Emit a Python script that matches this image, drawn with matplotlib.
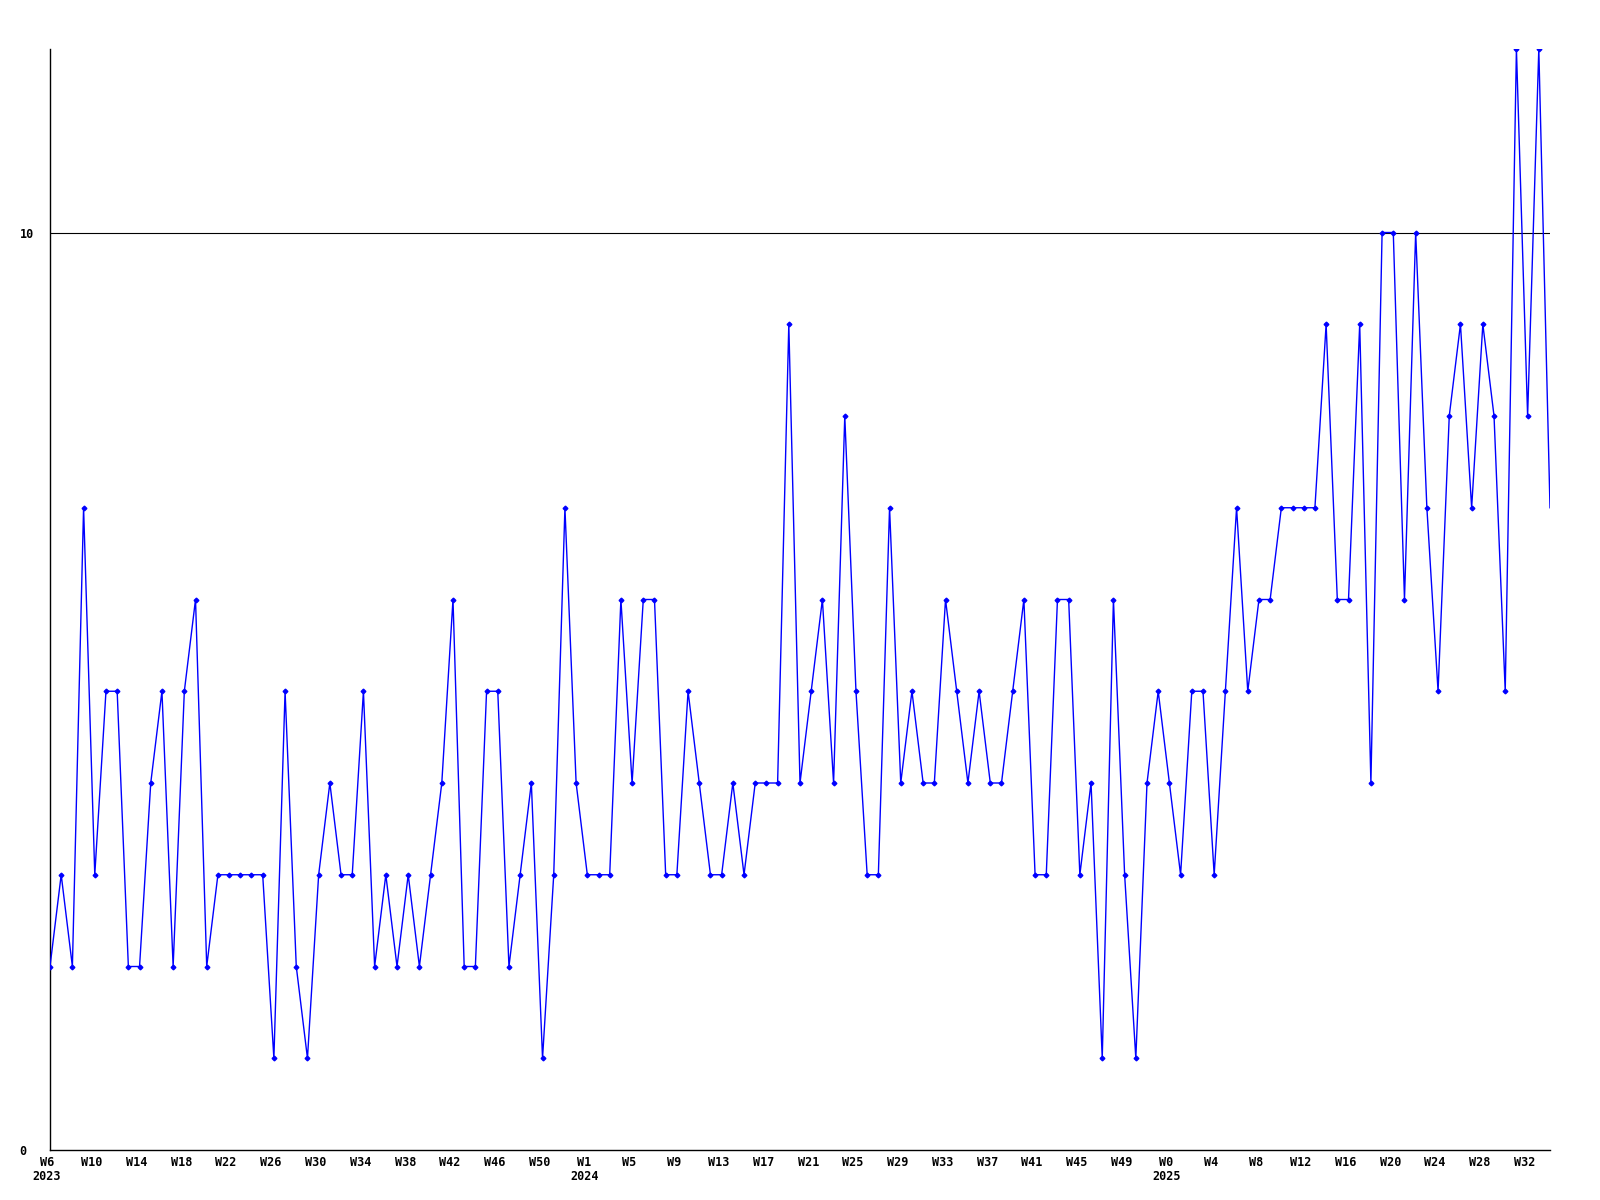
import matplotlib
matplotlib.use("Agg")
from matplotlib import pyplot as plt
from matplotlib.transforms import ScaledTranslation
import numpy as np

# weekly counts, 2023 W6 .. 2025 W34
values = [2, 3, 2, 7, 3, 5, 5, 2, 2, 4,
          5, 2, 5, 6, 2, 3, 3, 3, 3, 3,
          1, 5, 2, 1, 3, 4, 3, 3, 5, 2,
          3, 2, 3, 2, 3, 4, 6, 2, 2, 5,
          5, 2, 3, 4, 1, 3, 7, 4, 3, 3,
          3, 6, 4, 6, 6, 3, 3, 5, 4, 3,
          3, 4, 3, 4, 4, 4, 9, 4, 5, 6,
          4, 8, 5, 3, 3, 7, 4, 5, 4, 4,
          6, 5, 4, 5, 4, 4, 5, 6, 3, 3,
          6, 6, 3, 4, 1, 6, 3, 1, 4, 5,
          4, 3, 5, 5, 3, 5, 7, 5, 6, 6,
          7, 7, 7, 7, 9, 6, 6, 9, 4, 10,
          10, 6, 10, 7, 5, 8, 9, 7, 9, 8,
          5, 12, 8, 12, 7]

# week numbers per year (2023 starts at W6, later years at W0)
years = [2023, 2024, 2025]
first_week = [6, 0, 0]
points_per_year = [47, 53, 35]

week_labels = []
for y, w0, n in zip(years, first_week, points_per_year):
	for k in range(n):
		week_labels.append((y, w0 + k))

x = np.arange(len(values))

fig = plt.figure(figsize=(16, 12), dpi=100)
ax = fig.add_axes([50 / 1600, 1 - 1150 / 1200, 1500 / 1600, 1101 / 1200])

ax.plot(x, values, color="#0000ff", lw=1.0, marker="D", ms=2.4,
		markevery=slice(0, len(values) - 1), zorder=3)

ax.set_xlim(0, len(values) - 1)
ax.set_ylim(0, 12)

# horizontal reference line at 10
ax.axhline(10, color="black", lw=0.8, zorder=2)

# x ticks every 4 weeks, year shown under first label of each year
tick_pos = []
tick_txt = []
seen = set()
for i in range(0, len(values), 4):
	y, w = week_labels[i]
	lab = "W%d" % w
	if y not in seen:
		lab += "\n%d" % y
		seen.add(y)
	tick_pos.append(i)
	tick_txt.append(lab)

font = dict(family="DejaVu Sans Mono", weight="bold", size=8.5)
ax.set_xticks(tick_pos)
ax.set_xticklabels(tick_txt, fontdict=font, ha="center", va="top", linespacing=1.15)
ax.set_yticks([0, 10])
ax.set_yticklabels(["0", "10"], fontdict=font, ha="left")
ax.tick_params(axis="x", length=0, pad=4)
ax.tick_params(axis="y", length=0, pad=22)

# labels sit a few pixels left of their ticks
shift = ScaledTranslation(-3 / 100, 0, fig.dpi_scale_trans)
for lbl in ax.get_xticklabels():
	lbl.set_transform(lbl.get_transform() + shift)

for s in ["top", "right"]:
	ax.spines[s].set_visible(False)
ax.spines["left"].set_linewidth(1.0)
ax.spines["bottom"].set_linewidth(1.0)

fig.savefig("out.png", dpi=100)
